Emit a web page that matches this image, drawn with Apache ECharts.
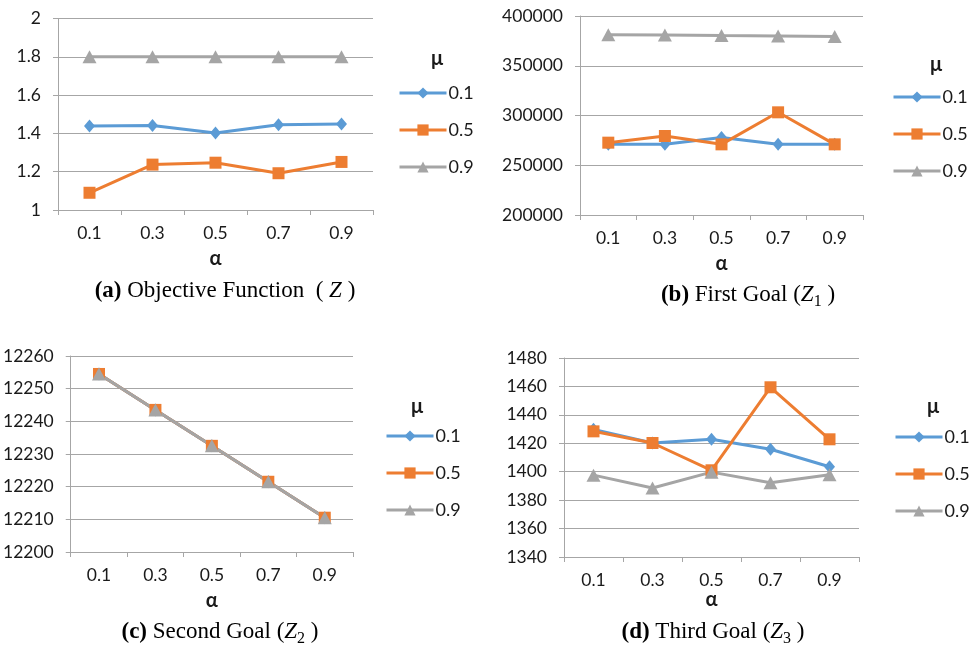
<!DOCTYPE html>
<html>
<head>
<meta charset="utf-8">
<script src="https://cdn.jsdelivr.net/npm/echarts@6/dist/echarts.min.js"></script>
<style>html,body{margin:0;padding:0;background:#fff;}#c{width:978px;height:651px;}</style>
</head>
<body>
<div id="c"></div>
<script>
// ---- data ----
const alphaCats = ['0.1', '0.3', '0.5', '0.7', '0.9'];
const muNames = ['0.1', '0.5', '0.9'];

// (a) Objective Function Z
const zMu01 = [1.438, 1.441, 1.402, 1.445, 1.449];
const zMu05 = [1.090, 1.237, 1.247, 1.192, 1.251];
const zMu09 = [1.8, 1.8, 1.8, 1.8, 1.8];

// (b) First Goal Z1
const z1Mu01 = [271000, 271000, 278000, 271000, 271000];
const z1Mu05 = [272700, 279400, 271000, 303200, 271000];
const z1Mu09 = [381200, 380800, 380300, 379900, 379400];

// (c) Second Goal Z2
const z2Mu01 = [12254.5, 12243.5, 12232.5, 12221.5, 12210.5];
const z2Mu05 = [12254.5, 12243.5, 12232.5, 12221.5, 12210.5];
const z2Mu09 = [12254.5, 12243.5, 12232.5, 12221.5, 12210.5];

// (d) Third Goal Z3
const z3Mu01 = [1429.8, 1420.2, 1422.8, 1415.8, 1403.5];
const z3Mu05 = [1428.4, 1420.2, 1401.0, 1459.4, 1422.8];
const z3Mu09 = [1397.6, 1388.5, 1399.7, 1392.2, 1397.9];

// y-axis ranges
const yRanges = [
  {min: 1, max: 2, interval: 0.2},
  {min: 200000, max: 400000, interval: 50000},
  {min: 12200, max: 12260, interval: 10},
  {min: 1340, max: 1480, interval: 20}
];
const panelData = [
  [zMu01, zMu05, zMu09],
  [z1Mu01, z1Mu05, z1Mu09],
  [z2Mu01, z2Mu05, z2Mu09],
  [z3Mu01, z3Mu05, z3Mu09]
];

// ---- styling ----
const colors = ['#5B9BD5', '#ED7D31', '#A5A5A5'];
const symbols = ['diamond', 'rect', 'triangle'];
const symSizes = [[11, 13], 12, [14, 13]];
const gridCol = '#a6a6a6';
const font = 'Lato, "Open Sans", sans-serif';
const serif = 'Liberation Serif';

const grids = [
  {left: 58, top: 18.5, width: 315, height: 191.5},
  {left: 580, top: 16, width: 283, height: 199},
  {left: 69, top: 356, width: 284, height: 196},
  {left: 564, top: 358, width: 295, height: 199}
];
const nameGaps = [39, 39, 39, 32];
const legendPos = [
  {left: 393, top: 79},
  {left: 887, top: 83},
  {left: 380, top: 422},
  {left: 889, top: 423}
];
const muPos = [[437, 59], [936, 65], [417, 407], [933, 407]];

const fmt = v => String(Math.round(v * 1000) / 1000);

const xAxes = grids.map((g, i) => ({
  type: 'category', gridIndex: i, data: alphaCats, boundaryGap: true,
  axisLine: {show: true, lineStyle: {color: gridCol, width: 1}},
  axisTick: {show: true, length: 5, alignWithLabel: false, lineStyle: {color: gridCol}},
  axisLabel: {fontFamily: font, fontSize: 17.5, color: '#1a1a1a', margin: 14},
  name: 'α', nameLocation: 'middle', nameGap: nameGaps[i],
  nameTextStyle: {fontFamily: font, fontSize: 20, fontWeight: 'bold', color: '#1a1a1a'}
}));
const yAxes = grids.map((g, i) => ({
  type: 'value', gridIndex: i, min: yRanges[i].min, max: yRanges[i].max, interval: yRanges[i].interval,
  axisLine: {show: true, lineStyle: {color: gridCol, width: 1}},
  axisTick: {show: true, length: 5, lineStyle: {color: gridCol}},
  splitLine: {show: true, lineStyle: {color: gridCol, width: 1}},
  axisLabel: {fontFamily: font, fontSize: 17.5, color: '#1a1a1a', margin: 17, formatter: fmt}
}));

const series = [];
panelData.forEach((arrs, p) => {
  arrs.forEach((vals, k) => {
    series.push({
      type: 'line', name: muNames[k], xAxisIndex: p, yAxisIndex: p,
      data: vals, symbol: symbols[k], symbolSize: symSizes[k], showSymbol: true,
      lineStyle: {color: colors[k], width: 3},
      itemStyle: {color: colors[k]},
      animation: false
    });
  });
});

const legends = legendPos.map(lp => ({
  orient: 'vertical', left: lp.left, top: lp.top,
  data: muNames, itemWidth: 47, itemHeight: 14, itemGap: 19,
  lineStyle: {width: 3},
  textStyle: {fontFamily: font, fontSize: 18, color: '#1a1a1a', padding: [0, 0, 0, -3]},
  selectedMode: false
}));

const captionRich = {
  b: {fontFamily: serif, fontSize: 23, fontWeight: 'bold', color: '#000'},
  r: {fontFamily: serif, fontSize: 23, fontWeight: 'normal', color: '#000'},
  i: {fontFamily: serif, fontSize: 23, fontStyle: 'italic', color: '#000'},
  s: {fontFamily: serif, fontSize: 16, color: '#000', padding: [14, 0, 0, 0]}
};
const captions = [
  {x: 225, y: 291, text: '{b|(a)}{r| Objective Function  ( }{i|Z}{r| )}'},
  {x: 748, y: 295, text: '{b|(b)}{r| First Goal (}{i|Z}{s|1}{r| )}'},
  {x: 220, y: 632, text: '{b|(c)}{r| Second Goal (}{i|Z}{s|2}{r| )}'},
  {x: 713, y: 632, text: '{b|(d)}{r| Third Goal (}{i|Z}{s|3}{r| )}'}
];

const graphics = [];
muPos.forEach(p => graphics.push({
  type: 'text', x: p[0], y: p[1],
  style: {text: 'μ', fontFamily: font, fontSize: 20, fontWeight: 'bold', fill: '#1a1a1a', align: 'center', verticalAlign: 'middle'}
}));
captions.forEach(c => graphics.push({
  type: 'text', x: c.x, y: c.y,
  style: {text: c.text, fontFamily: serif, fontSize: 23, rich: captionRich, align: 'center', verticalAlign: 'middle'}
}));

const chart = echarts.init(document.getElementById('c'), null, {renderer: 'canvas'});
chart.setOption({
  backgroundColor: '#fff',
  animation: false,
  grid: grids.map(g => Object.assign({containLabel: false}, g)),
  xAxis: xAxes,
  yAxis: yAxes,
  legend: legends,
  series: series,
  graphic: graphics
});
</script>
</body>
</html>
